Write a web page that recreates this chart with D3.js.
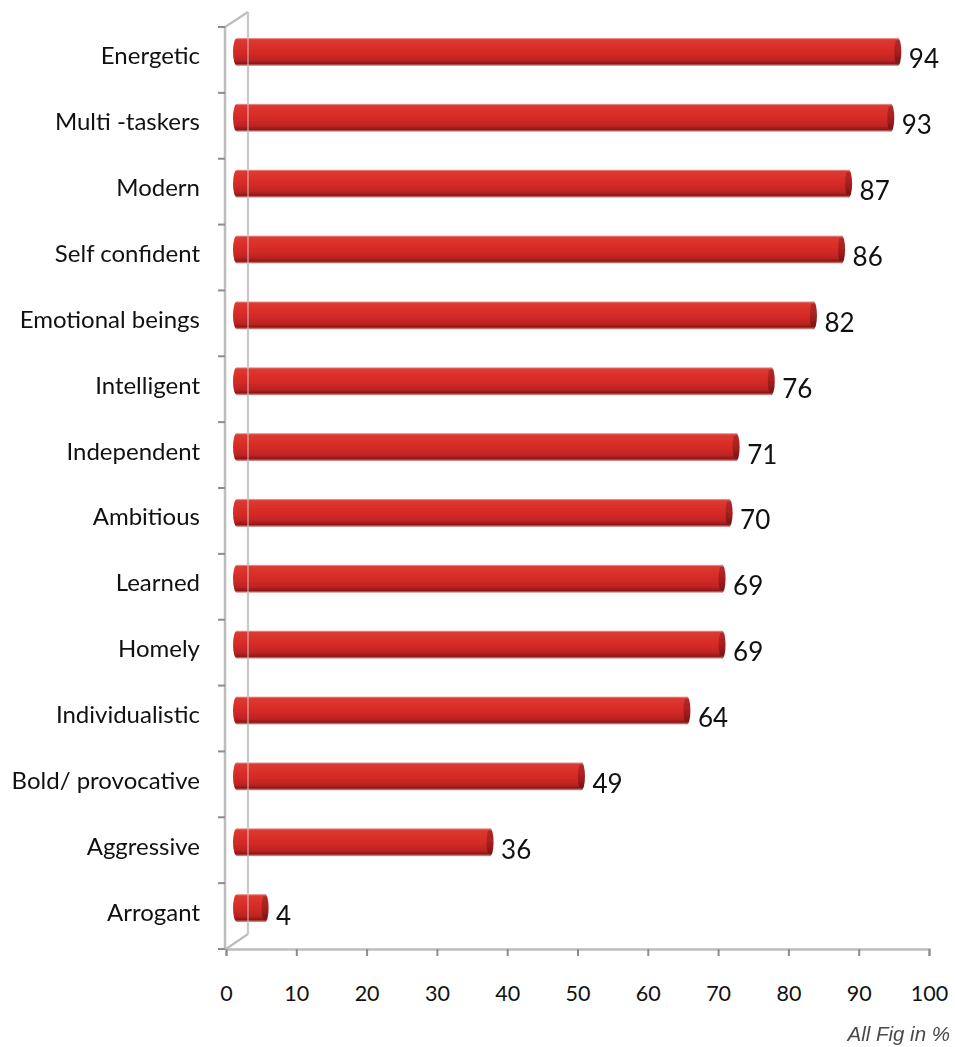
<!DOCTYPE html>
<html>
<head>
<meta charset="utf-8">
<script src="https://cdn.jsdelivr.net/npm/d3@7"></script>
<style>
  html, body { margin: 0; padding: 0; background: #fff; }
  svg { display: block; }
</style>
</head>
<body>
<script>
// ---- data ----
const categories = ["Energetic", "Multi -taskers", "Modern", "Self confident", "Emotional beings",
  "Intelligent", "Independent", "Ambitious", "Learned", "Homely", "Individualistic",
  "Bold/ provocative", "Aggressive", "Arrogant"];
const values = [94, 93, 87, 86, 82, 76, 71, 70, 69, 69, 64, 49, 36, 4];
const xTicks = [0, 10, 20, 30, 40, 50, 60, 70, 80, 90, 100];
const note = "All Fig in %";

// ---- layout ----
const W = 955, H = 1047;
const x0 = 226, x1 = 929, yTop = 27, yBot = 949;
const depthX = 22, depthY = -15;       // back wall offset
const barDX = 11, barDY = -8;          // bars sit mid-depth

const svg = d3.select("body").append("svg").attr("width", W).attr("height", H);

const x = d3.scaleLinear().domain([0, 100]).range([x0, x1]);
const y = d3.scaleBand().domain(categories).range([yTop, yBot])
  .paddingInner(0.575).paddingOuter(0.2875);

const defs = svg.append("defs");
const g1 = defs.append("linearGradient").attr("id", "barGrad")
  .attr("x1", 0).attr("y1", 0).attr("x2", 0).attr("y2", 1);
[[0, "#eeb3af"], [0.06, "#dd3b35"], [0.3, "#d93029"], [0.55, "#d32a26"], [0.8, "#bb2322"],
 [0.92, "#8e1717"], [1, "#dcaaa7"]].forEach(([o, c]) =>
  g1.append("stop").attr("offset", o).attr("stop-color", c));
const g2 = defs.append("linearGradient").attr("id", "capGrad")
  .attr("x1", 0).attr("y1", 0).attr("x2", 0).attr("y2", 1);
[[0, "#d89a96"], [0.1, "#b42826"], [0.5, "#a81f1f"], [0.9, "#7d1414"], [1, "#b98583"]].forEach(([o, c]) =>
  g2.append("stop").attr("offset", o).attr("stop-color", c));
defs.append("filter").attr("id", "soft")
  .append("feGaussianBlur").attr("stdDeviation", 0.6);

const axisColor = "#bdbdbd";

// back wall line + floor/top diagonals
const back = svg.append("g");
back.append("line").attr("x1", x0 + depthX).attr("x2", x0 + depthX)
  .attr("y1", yTop + depthY).attr("y2", yBot + depthY)
  .attr("stroke", axisColor).attr("stroke-width", 2.2);
back.append("line").attr("x1", x0 - 1).attr("y1", yTop).attr("x2", x0 + depthX).attr("y2", yTop + depthY)
  .attr("stroke", axisColor).attr("stroke-width", 2.2);
back.append("line").attr("x1", x0).attr("y1", yBot).attr("x2", x0 + depthX).attr("y2", yBot + depthY)
  .attr("stroke", axisColor).attr("stroke-width", 2.2);

// left (front) axis
const left = svg.append("g");
left.append("line").attr("x1", x0 - 1).attr("x2", x0 - 1).attr("y1", yTop).attr("y2", yBot)
  .attr("stroke", axisColor).attr("stroke-width", 2.5);
const bounds = categories.map(c => y(c) - y.step() * y.paddingInner() / 2);
bounds[0] = yTop;
bounds.push(yBot);
left.selectAll("line.tk").data(bounds).join("line").attr("class", "tk")
  .attr("x1", x0 - 8).attr("x2", x0 - 1).attr("y1", d => d).attr("y2", d => d)
  .attr("stroke", "#8c8c8c").attr("stroke-width", 2);

// bottom axis
const xAxis = d3.axisBottom(x).tickValues(xTicks).tickSize(7).tickPadding(30).tickFormat(d3.format("d"));
const ax = svg.append("g").attr("transform", `translate(0,${yBot})`).call(xAxis);
ax.select(".domain").attr("stroke", axisColor).attr("stroke-width", 2.5);
ax.selectAll(".tick line").attr("stroke", "#8c8c8c").attr("stroke-width", 2);
ax.selectAll(".tick text").attr("font-family", "Lato, 'Open Sans', sans-serif")
  .attr("font-size", 21.5).attr("fill", "#111");

// bars
const bh = y.bandwidth();
const bars = svg.append("g").attr("filter", "url(#soft)");
const bg = bars.selectAll("g").data(categories.map((c, i) => ({ c, v: values[i] }))).join("g")
  .attr("transform", d => `translate(0,${y(d.c) + barDY})`);
bg.append("ellipse").attr("cx", x(0) + barDX).attr("cy", bh / 2).attr("rx", 4).attr("ry", bh / 2)
  .attr("fill", "url(#barGrad)");
bg.append("rect").attr("x", x(0) + barDX).attr("y", 0)
  .attr("width", d => x(d.v) - x(0)).attr("height", bh).attr("fill", "url(#barGrad)");
bg.append("ellipse").attr("cx", d => x(d.v) + barDX).attr("cy", bh / 2).attr("rx", 3.5).attr("ry", bh / 2)
  .attr("fill", "url(#capGrad)");

// faint back wall line seen through bars
svg.append("line").attr("x1", x0 + depthX).attr("x2", x0 + depthX)
  .attr("y1", yTop + depthY).attr("y2", yBot + depthY)
  .attr("stroke", "#d8d8d8").attr("stroke-width", 2).attr("opacity", 0.45);

// value labels
svg.append("g").selectAll("text").data(categories.map((c, i) => ({ c, v: values[i] }))).join("text")
  .attr("x", d => x(d.v) + barDX + 11)
  .attr("y", d => y(d.c) + barDY + bh / 2 + 16.5)
  .attr("font-family", "Lato, 'Open Sans', sans-serif").attr("font-size", 26).attr("fill", "#111")
  .text(d => d.v);

// category labels
svg.append("g").selectAll("text").data(categories).join("text")
  .attr("x", 200).attr("y", d => y(d) + bh / 2 + 4.5)
  .attr("text-anchor", "end")
  .attr("font-family", "Lato, 'Open Sans', sans-serif").attr("font-size", 24).attr("fill", "#111")
  .text(d => d);

// note
svg.append("text").attr("x", 950).attr("y", 1041).attr("text-anchor", "end")
  .attr("font-family", "'Liberation Sans', Arial, sans-serif").attr("font-style", "italic")
  .attr("font-size", 20.5).attr("fill", "#4a4a4a").text(note);
</script>
</body>
</html>
